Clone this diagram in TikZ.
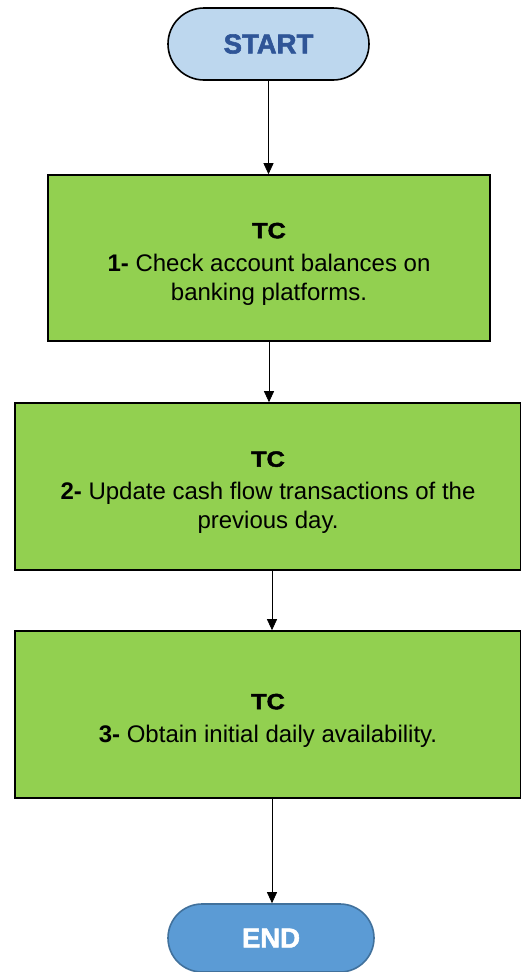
\documentclass[tikz,border=0pt]{standalone}
\usepackage{fontspec}
\setmainfont{Liberation Sans}
\newfontfamily\heavyfont[FakeBold=2]{Liberation Sans Bold}
\newfontfamily\heavywidefont[FakeBold=2,FakeStretch=1.15]{Liberation Sans Bold}
\usetikzlibrary{arrows.meta}
\definecolor{startfill}{HTML}{BDD7EE}
\definecolor{starttext}{HTML}{2F5597}
\definecolor{endfill}{HTML}{5B9BD5}
\definecolor{endborder}{HTML}{41719C}
\definecolor{boxgreen}{HTML}{92D050}
\tikzset{
  x=1pt, y=-1pt,
  terminal/.style={draw, line width=1.6pt, rounded corners=#1, inner sep=0pt, font=\heavyfont\fontsize{27.5}{32}\selectfont},
  taskbox/.style={draw=black, fill=boxgreen, line width=1.6pt, inner sep=0pt},
  boxtext/.style={inner sep=0pt, align=center, font=\fontsize{24}{29}\selectfont},
  arr/.style={line width=0.8pt, -{Triangle[length=11pt,width=10pt]}}
}
\newcommand{\tchead}{{\heavywidefont\fontsize{22}{26}\selectfont TC}\\[4pt]}
\begin{document}
\begin{tikzpicture}
\useasboundingbox (0,0) rectangle (521,972);
\node[terminal=36pt, fill=startfill, text=starttext, minimum width=201pt, minimum height=72pt] (start) at (268.5,44) {START};
\node[taskbox, minimum width=442pt, minimum height=166pt] (b1) at (269,258) {};
\node[boxtext] (t1) at ([yshift=-6pt]b1.center)
  {\tchead\textbf{1-} Check account balances on\\banking platforms.};
\node[taskbox, minimum width=506pt, minimum height=167pt] (b2) at (268,486.5) {};
\node[boxtext] (t2) at ([yshift=-6pt]b2.center)
  {\tchead\textbf{2-} Update cash flow transactions of the\\previous day.};
\node[taskbox, minimum width=506pt, minimum height=167pt] (b3) at (268,714.5) {};
\node[boxtext] (t3) at ([yshift=-6pt]b3.center)
  {\tchead\textbf{3-} Obtain initial daily availability.};
\node[terminal=34pt, draw=endborder, fill=endfill, text=white, minimum width=206pt, minimum height=68pt] (end) at (271,938) {END};
\draw[arr] (start.south) -- (start.south |- b1.north);
\draw[arr] (b1.south) -- (b1.south |- b2.north);
\draw[arr] ([xshift=4pt]b2.south) -- ([xshift=4pt]b2.south |- b3.north);
\draw[arr] ([xshift=4pt]b3.south) -- ([xshift=4pt]b3.south |- end.north);
\end{tikzpicture}
\end{document}
